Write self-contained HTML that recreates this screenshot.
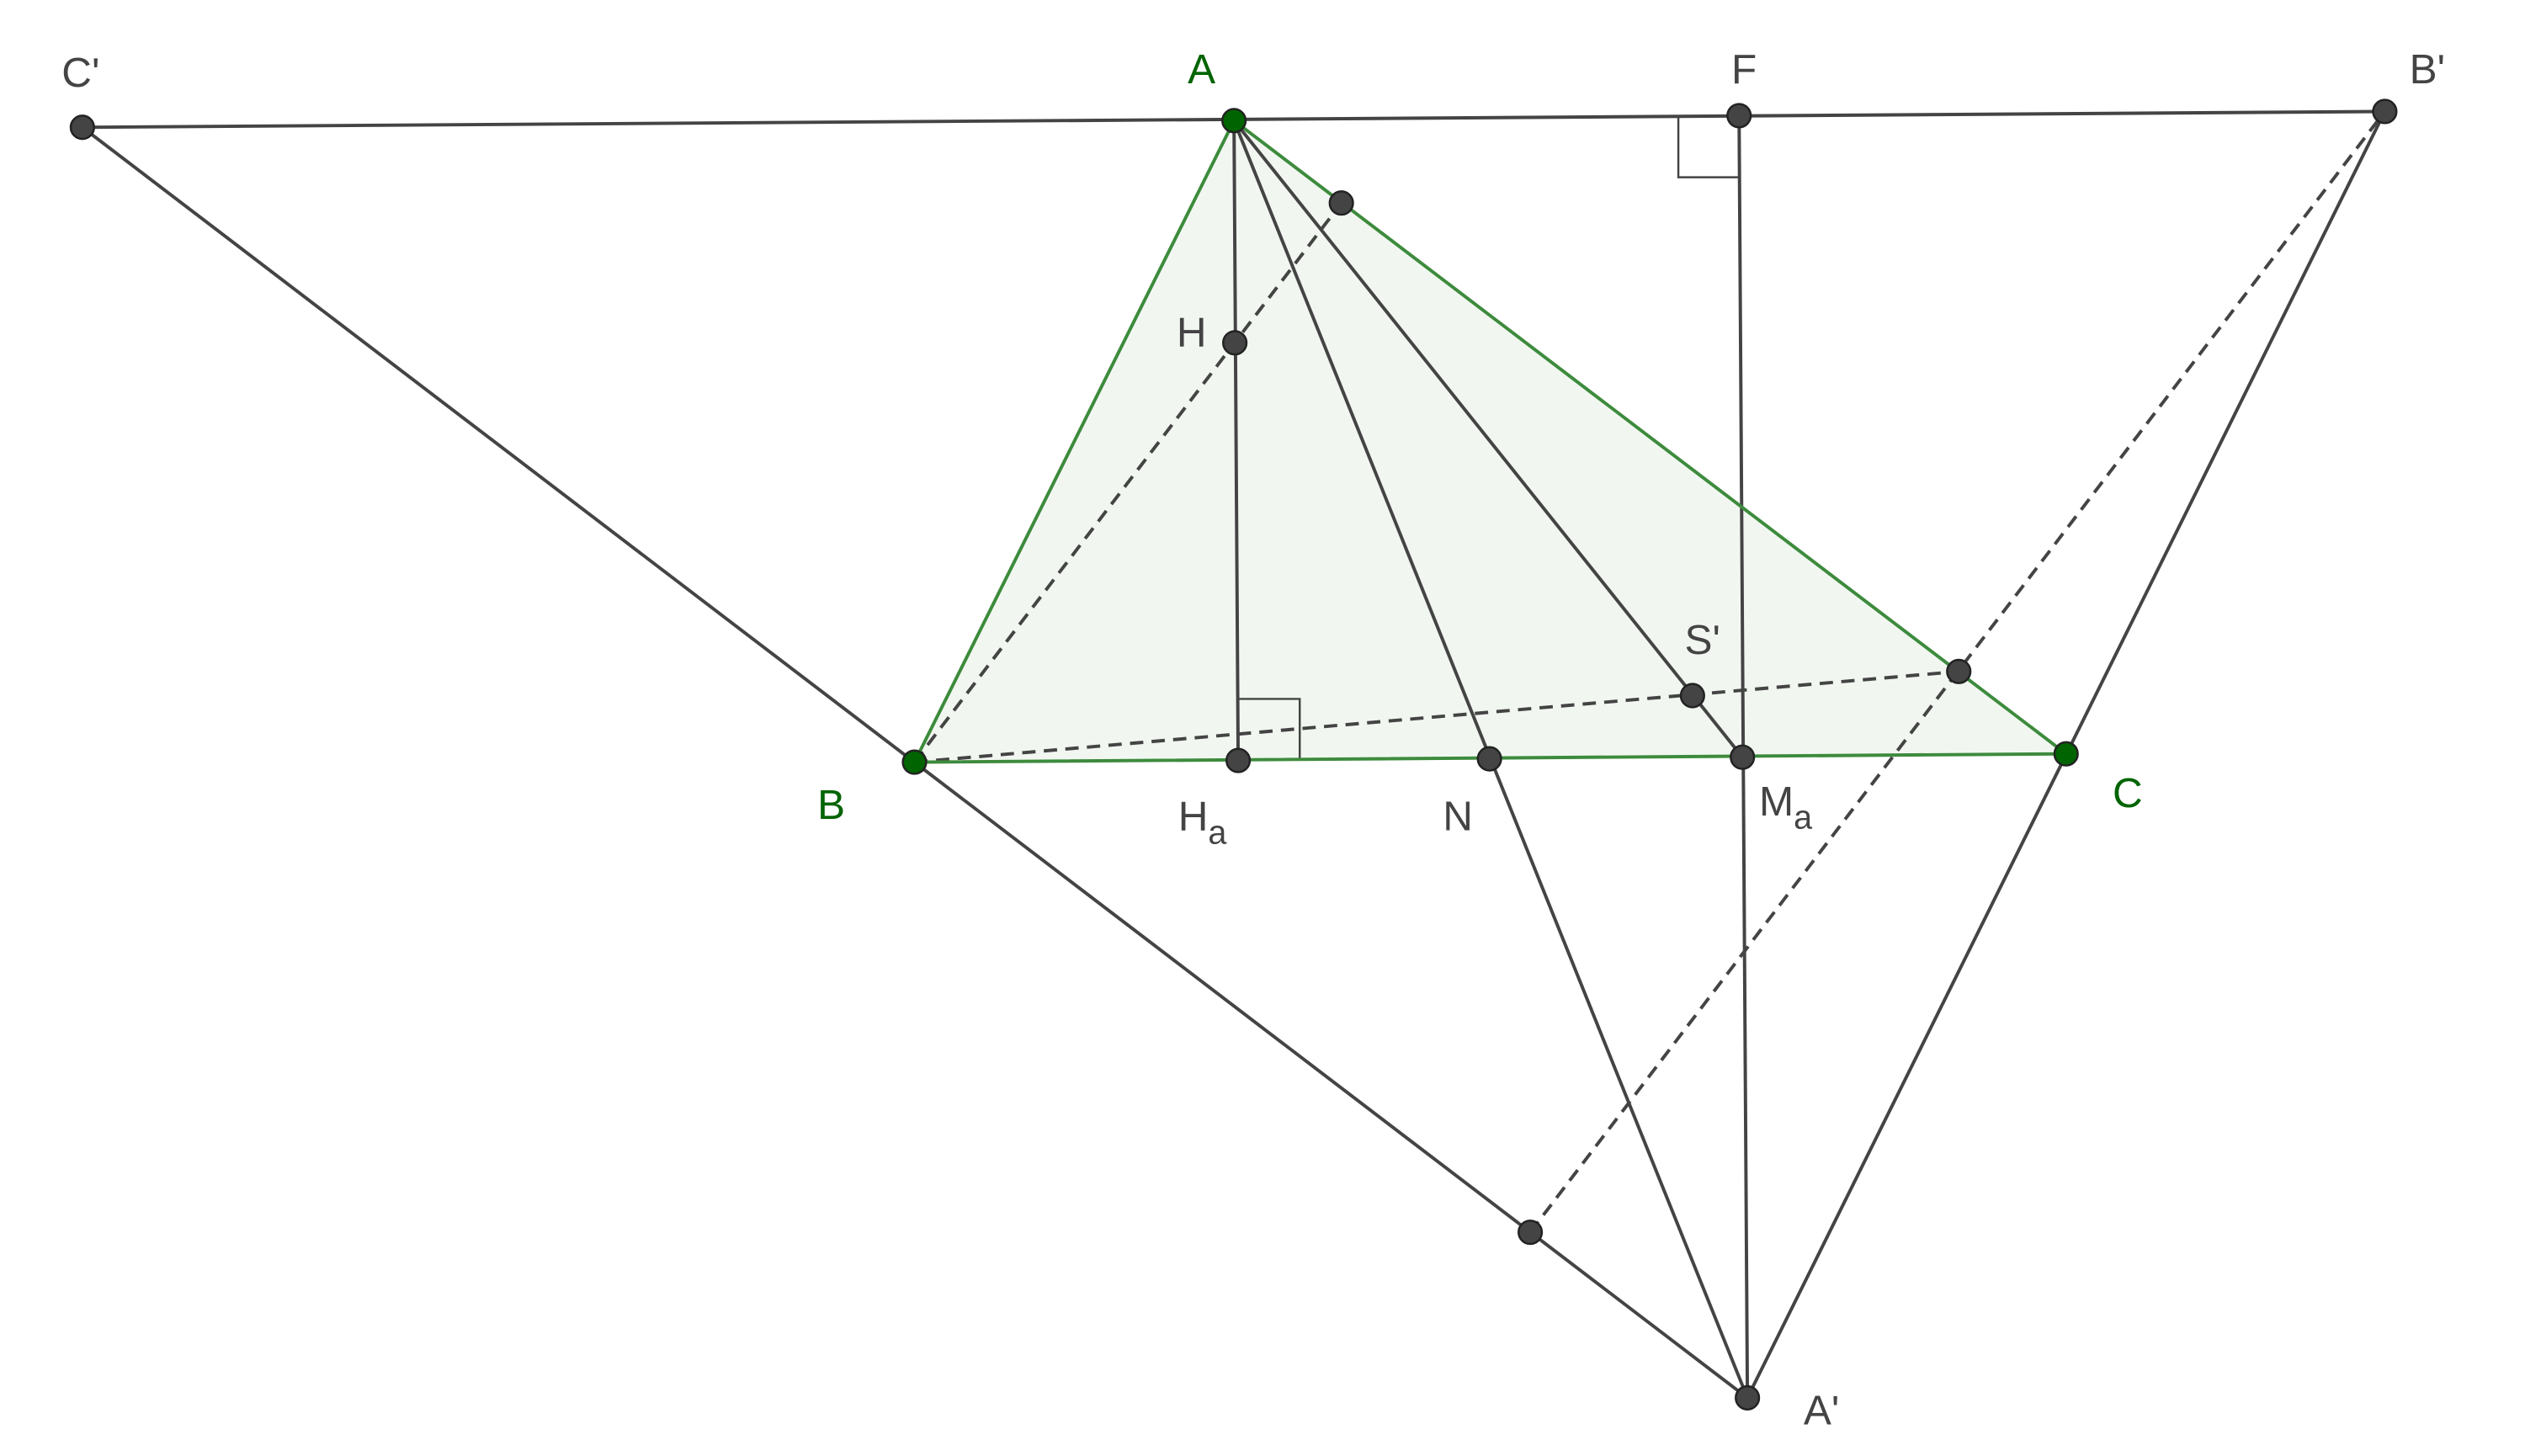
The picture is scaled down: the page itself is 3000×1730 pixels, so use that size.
<!DOCTYPE html>
<html><head><style>html,body{margin:0;padding:0;background:#fff}svg{display:block}</style></head>
<body>
<svg width="3000" height="1730" viewBox="0 0 3000 1730" xmlns="http://www.w3.org/2000/svg" font-family="Liberation Sans, sans-serif" font-size="50">
<g transform="scale(0.98863)">
<polygon points="1483,145 1099,916 2483,906" fill="#eef5ec" fill-opacity="0.8"/>
<g stroke="#444" stroke-width="4" fill="none">
<line x1="99" y1="153" x2="2866" y2="134"/>
<line x1="99" y1="153" x2="2100" y2="1680"/>
<line x1="2866" y1="134" x2="2100" y2="1680"/>
<line x1="1483" y1="145" x2="1488" y2="914"/>
<line x1="1483" y1="145" x2="2100" y2="1680"/>
<line x1="1483" y1="145" x2="2094" y2="910"/>
<line x1="2090" y1="139" x2="2100" y2="1680"/>
<g stroke-dasharray="16,10">
<line x1="1099" y1="916" x2="1612" y2="244"/>
<line x1="1099" y1="916" x2="2354" y2="807"/>
<line x1="1839" y1="1481" x2="2866" y2="134"/>
</g>
<g stroke-width="2.5">
<polyline points="2017,141 2017,213 2090,213"/>
<polyline points="1488,840 1562,840 1562,914"/>
</g>
</g>
<g stroke="#3d8b3d" stroke-width="4" fill="none">
<polygon points="1483,145 1099,916 2483,906"/>
</g>
<g fill="#444" stroke="#222" stroke-width="2.5">
<circle cx="99" cy="153" r="14"/>
<circle cx="2090" cy="139" r="14"/>
<circle cx="2866" cy="134" r="14"/>
<circle cx="1612" cy="244" r="14"/>
<circle cx="1484" cy="412" r="14"/>
<circle cx="2034" cy="836" r="14"/>
<circle cx="2354" cy="807" r="14"/>
<circle cx="1488" cy="914" r="14"/>
<circle cx="1790" cy="912" r="14"/>
<circle cx="2094" cy="910" r="14"/>
<circle cx="1839" cy="1481" r="14"/>
<circle cx="2100" cy="1680" r="14"/>
</g>
<g fill="#006400" stroke="#222" stroke-width="2.5">
<circle cx="1483" cy="145" r="14"/>
<circle cx="1099" cy="916" r="14"/>
<circle cx="2483" cy="906" r="14"/>
</g>
<g fill="#444" text-anchor="middle">
<text x="97" y="104">C'</text>
<text x="2096" y="100">F</text>
<text x="2917" y="100">B'</text>
<text x="1432" y="416">H</text>
<text x="2046" y="786">S'</text>
<text x="1445" y="998">H<tspan font-size="40" dy="16">a</tspan></text>
<text x="1752" y="998">N</text>
<text x="2146" y="980">M<tspan font-size="40" dy="16">a</tspan></text>
<text x="2189" y="1712">A'</text>
</g>
<g fill="#006400" text-anchor="middle">
<text x="1444" y="100">A</text>
<text x="999" y="984">B</text>
<text x="2557" y="970">C</text>
</g>
</g>
</svg>
</body></html>
